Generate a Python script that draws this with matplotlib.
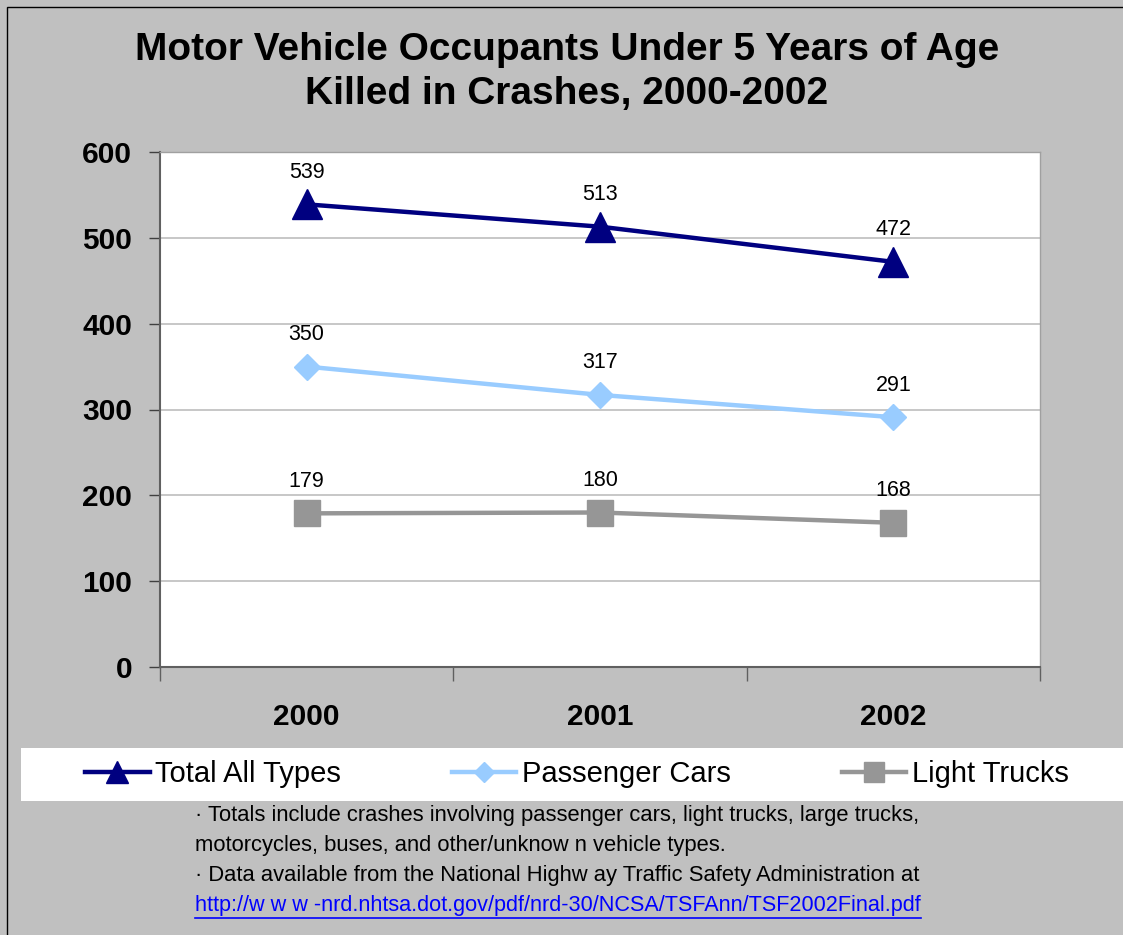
import matplotlib.pyplot as plt
from matplotlib.lines import Line2D
from matplotlib.patches import Rectangle

plt.rcParams['font.family'] = ['Liberation Sans', 'DejaVu Sans']

# data
years = ['2000', '2001', '2002']
total_all = [539, 513, 472]
passenger_cars = [350, 317, 291]
light_trucks = [179, 180, 168]

notes = [
    '\u00b7 Totals include crashes involving passenger cars, light trucks, large trucks,',
    'motorcycles, buses, and other/unknow n vehicle types.',
    '\u00b7 Data available from the National Highw ay Traffic Safety Administration at',
]
link = 'http://w w w -nrd.nhtsa.dot.gov/pdf/nrd-30/NCSA/TSFAnn/TSF2002Final.pdf'

W, H = 1123, 935
fig = plt.figure(figsize=(W / 100, H / 100), dpi=100, facecolor='#C0C0C0')

# outer chart border
fig.patches.append(Rectangle((7 / W, -0.01), 1.1, (H - 7) / H + 0.01, transform=fig.transFigure,
                             fill=False, edgecolor='black', linewidth=1))

ax = fig.add_axes([160 / W, 1 - 667 / H, 880 / W, 515 / H])
ax.set_facecolor('white')

x = range(len(years))
series = [
    (total_all, '#000080', '^', 22, 'Total All Types'),
    (passenger_cars, '#99CCFF', 'D', 13, 'Passenger Cars'),
    (light_trucks, '#969696', 's', 19, 'Light Trucks'),
]
handles = []
for vals, col, mk, ms, name in series:
    h, = ax.plot(x, vals, color=col, lw=3.2, marker=mk, markersize=ms,
                 markerfacecolor=col, markeredgecolor=col, label=name, zorder=3)
    handles.append(h)
    for xi, v in zip(x, vals):
        ax.annotate(str(v), (xi, v), xytext=(0, 23), textcoords='offset points',
                    ha='center', va='center', fontsize=15.5)

ax.set_xlim(-0.5, 2.5)
ax.set_ylim(0, 600)
ax.set_yticks(range(0, 601, 100))
ax.yaxis.grid(True, color='#BDBDBD', lw=1.2)
ax.set_axisbelow(True)
for lab in ax.get_yticklabels():
    lab.set_fontweight('bold')
ax.tick_params(axis='y', labelsize=21.5, length=8, width=1, color='#404040', pad=12)

ax.set_xticks([-0.5, 0.5, 1.5, 2.5])
ax.set_xticklabels([])
ax.set_xticks(list(x), minor=True)
ax.set_xticklabels(years, minor=True, fontsize=21.5, fontweight='bold')
ax.tick_params(axis='x', which='major', length=10, width=1, color='#606060', direction='out')
ax.tick_params(axis='x', which='minor', length=0, pad=26)

for s in ['top', 'right']:
    ax.spines[s].set_color('#A0A0A0')
    ax.spines[s].set_linewidth(1)
for s in ['left', 'bottom']:
    ax.spines[s].set_color('#606060')
    ax.spines[s].set_linewidth(1.5)

fig.text(567 / W, 1 - 72 / H, 'Motor Vehicle Occupants Under 5 Years of Age\nKilled in Crashes, 2000-2002',
         ha='center', va='center', fontsize=28, fontweight='bold', linespacing=1.32)

# legend band
fig.patches.append(Rectangle((21 / W, 1 - 801 / H), (W - 21) / W, 53 / H,
                             transform=fig.transFigure, facecolor='white', edgecolor='none'))
leg = fig.legend(handles=handles, loc='center', bbox_to_anchor=(577 / W, 1 - 774 / H),
                 ncol=3, frameon=False, fontsize=21, handlelength=2.2, handletextpad=0.2,
                 columnspacing=3.8, markerscale=0.75)

for i, t in enumerate(notes):
    fig.text(195 / W, 1 - (816 + 30 * i) / H, t, ha='left', va='center', fontsize=15.8)
lt = fig.text(195 / W, 1 - 906 / H, link, ha='left', va='center', fontsize=15.6, color='#0000FF')

fig.canvas.draw()
bb = lt.get_window_extent().transformed(fig.transFigure.inverted())
fig.add_artist(Line2D([bb.x0, bb.x1], [bb.y0 - 1 / H, bb.y0 - 1 / H], color='#0000FF', lw=1.2,
                      transform=fig.transFigure))

fig.savefig('out.png', dpi=100, facecolor=fig.get_facecolor())
